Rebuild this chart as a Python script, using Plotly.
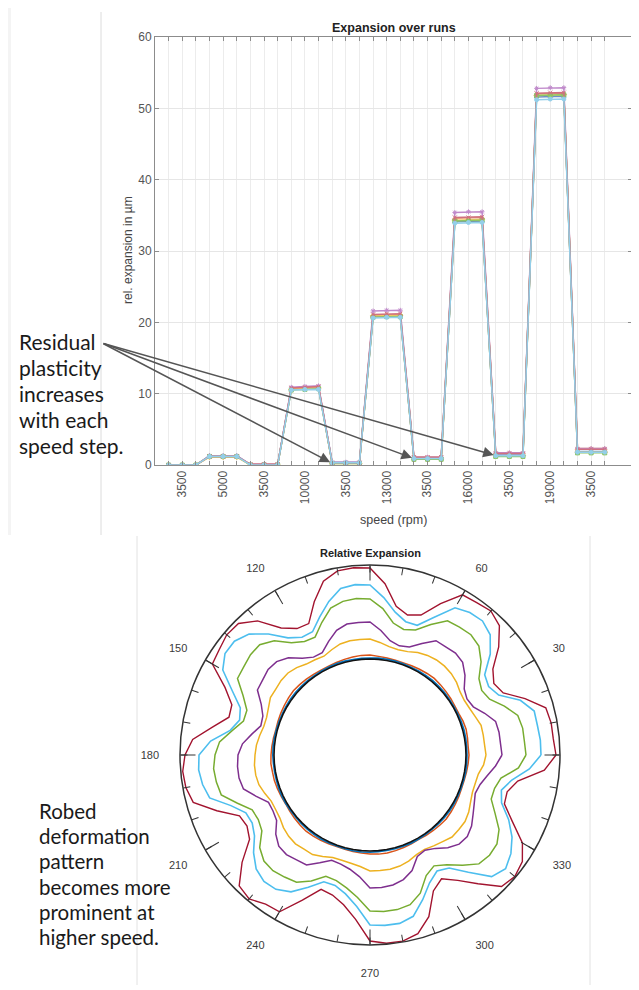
import plotly.graph_objects as go

# page (window) size and the browser's default body offset
PAGE_W, PAGE_H = 639, 990
OFF = 8
W, H = PAGE_W - OFF, PAGE_H - OFF

# ---------------- top chart data ----------------
RUN_POS = list(range(1, 34))
GROUP_CENTERS = [2, 5, 8, 11, 14, 17, 20, 23, 26, 29, 32]
GROUP_LABELS = ['3500', '5000', '3500', '10000', '3500', '13000', '3500', '16000', '3500', '19000', '3500']

exp_blue = [0, 0, 0, 1.3, 1.3, 1.3, 0.05, 0.05, 0.05, 10.6, 10.7, 10.8, 0.4, 0.4, 0.4, 20.8, 20.8, 20.9,
            0.9, 0.9, 0.9, 34.1, 34.2, 34.2, 1.4, 1.4, 1.4, 51.6, 51.7, 51.7, 1.9, 1.9, 1.9]
exp_orange = [0, 0, 0, 1.2, 1.2, 1.2, 0.1, 0.1, 0.1, 10.7, 10.8, 10.9, 0.3, 0.3, 0.3, 21.0, 21.1, 21.1,
              1.1, 1.1, 1.1, 34.6, 34.6, 34.7, 1.7, 1.7, 1.7, 52.0, 52.0, 52.1, 2.3, 2.3, 2.3]
exp_yellow = [0, 0, 0, 1.1, 1.1, 1.1, 0.0, 0.0, 0.0, 10.6, 10.7, 10.8, 0.2, 0.2, 0.2, 20.9, 20.9, 21.0,
              0.8, 0.8, 0.8, 34.3, 34.3, 34.4, 1.3, 1.3, 1.3, 51.8, 51.8, 51.9, 1.8, 1.8, 1.8]
exp_purple = [0, 0, 0, 1.3, 1.3, 1.3, 0.1, 0.1, 0.1, 10.9, 11.0, 11.1, 0.4, 0.4, 0.4, 21.6, 21.7, 21.7,
              1.1, 1.1, 1.1, 35.4, 35.5, 35.5, 1.7, 1.7, 1.7, 52.8, 52.9, 52.9, 2.3, 2.3, 2.3]
exp_green = [0, 0, 0, 1.2, 1.2, 1.2, 0.0, 0.0, 0.0, 10.5, 10.6, 10.7, 0.2, 0.2, 0.2, 20.7, 20.8, 20.8,
             0.8, 0.8, 0.8, 34.2, 34.2, 34.3, 1.2, 1.2, 1.2, 51.8, 51.9, 51.9, 1.7, 1.7, 1.7]
exp_red = [0, 0, 0, 1.2, 1.2, 1.2, 0.1, 0.1, 0.1, 10.8, 10.9, 11.0, 0.3, 0.3, 0.3, 21.1, 21.2, 21.2,
           1.1, 1.1, 1.1, 34.7, 34.7, 34.8, 1.6, 1.6, 1.6, 52.1, 52.2, 52.2, 2.2, 2.2, 2.2]
exp_cyan = [0, 0, 0, 1.2, 1.2, 1.2, 0.0, 0.0, 0.0, 10.5, 10.6, 10.6, 0.3, 0.3, 0.3, 20.6, 20.7, 20.7,
            0.9, 0.9, 0.9, 33.9, 34.0, 34.0, 1.3, 1.3, 1.3, 51.2, 51.3, 51.3, 1.8, 1.8, 1.8]

ARROW_RUNS = [13, 19, 25]

# ---------------- polar chart data (radius, plot units) ----------------
THETA = list(range(0, 360, 5))
r_red = [186, 184, 184, 182, 165, 147, 143, 150, 168, 183,
         188, 186, 185, 167, 149, 145, 151, 172, 187, 188,
         187, 180, 163, 145, 146, 155, 175, 186, 187, 184,
         182, 160, 147, 146, 160, 178, 185, 188, 187, 183,
         163, 144, 142, 147, 167, 185, 188, 182, 181, 160,
         143, 145, 152, 165, 186, 189, 189, 185, 172, 150,
         143, 153, 168, 186, 189, 186, 176, 157, 143, 142,
         150, 175]
r_cyan = [171, 171, 170, 170, 160, 142, 137, 140, 157, 170,
          175, 174, 170, 152, 138, 138, 145, 158, 170, 171,
          169, 159, 147, 136, 136, 143, 158, 171, 177, 177,
          170, 152, 138, 135, 142, 160, 171, 172, 170, 166,
          148, 137, 136, 141, 152, 161, 165, 164, 158, 146,
          135, 135, 141, 152, 170, 171, 171, 167, 154, 141,
          134, 138, 153, 172, 177, 172, 164, 153, 140, 136,
          144, 160]
r_green = [156, 155, 155, 153, 143, 132, 129, 133, 145, 154,
           157, 156, 155, 144, 133, 130, 134, 147, 156, 157,
           156, 152, 141, 130, 131, 137, 149, 156, 156, 154,
           153, 140, 131, 131, 140, 151, 155, 157, 156, 154,
           141, 130, 129, 132, 144, 150, 151, 149, 147, 139,
           129, 130, 135, 143, 156, 157, 157, 155, 147, 133,
           128, 134, 144, 154, 156, 155, 149, 138, 129, 129,
           133, 149]
r_purple = [132, 131, 131, 130, 122, 114, 112, 115, 124, 131,
            133, 132, 132, 123, 115, 113, 116, 125, 133, 133,
            133, 129, 121, 113, 113, 118, 127, 132, 133, 131,
            130, 120, 114, 113, 120, 128, 132, 133, 133, 131,
            121, 112, 112, 114, 123, 129, 130, 128, 127, 119,
            112, 113, 116, 122, 133, 133, 132, 129, 123, 112,
            110, 114, 121, 126, 127, 124, 119, 115, 112, 114,
            119, 126]
r_yellow = [116, 115, 115, 115, 112, 110, 109, 110, 113, 115,
            116, 116, 115, 113, 110, 109, 110, 113, 116, 116,
            116, 115, 112, 109, 110, 111, 114, 116, 116, 115,
            115, 112, 110, 110, 112, 114, 115, 116, 116, 115,
            112, 109, 109, 110, 113, 115, 116, 115, 115, 112,
            109, 109, 110, 112, 116, 116, 116, 115, 113, 110,
            109, 111, 113, 116, 116, 116, 114, 111, 109, 109,
            110, 114]
r_orange = [99, 98.5, 99, 99.5, 99, 98, 98, 98.5, 99, 99.5,
            100, 99.5, 99, 98.5, 98, 98, 98.5, 99, 100, 100,
            99.5, 99, 98.5, 98, 98, 98.5, 99, 99.5, 100, 99.5,
            99, 98.5, 98, 97.5, 98, 98.5, 99, 99.5, 99, 99,
            98.5, 98, 97.5, 98, 98.5, 99, 99.5, 99, 98.5, 98,
            97.5, 97.5, 98, 98.5, 99, 99.5, 99.5, 99, 98.5, 98,
            97.5, 98, 98.5, 99, 99.5, 99, 98.5, 98, 97.5, 97.5,
            98, 98.5]
r_blue = [97, 97, 97.2, 97.3, 97.2, 97, 96.9, 97, 97.2, 97.3,
          97.3, 97.2, 97, 96.9, 97, 97.2, 97.3, 97.2, 97, 97,
          97, 97.2, 97.3, 97.2, 97, 96.9, 97, 97.2, 97.3, 97.2,
          97, 96.9, 96.9, 97, 97.2, 97.3, 97.2, 97, 96.9, 97,
          97.2, 97.3, 97.2, 97, 96.9, 97, 97.2, 97.3, 97.2, 97,
          96.9, 97, 97.2, 97.3, 97.2, 97, 96.9, 97, 97.2, 97.3,
          97.2, 97, 96.9, 97, 97.2, 97.3, 97.2, 97, 96.9, 97,
          97.2, 97.1]
r_black = [96, 96, 96, 96, 96, 96, 96, 96, 96, 96,
           96, 96, 96, 96, 96, 96, 96, 96, 96, 96,
           96, 96, 96, 96, 96, 96, 96, 96, 96, 96,
           96, 96, 96, 96, 96, 96, 96, 96, 96, 96,
           96, 96, 96, 96, 96, 96, 96, 96, 96, 96,
           96, 96, 96, 96, 96, 96, 96, 96, 96, 96,
           96, 96, 96, 96, 96, 96, 96, 96, 96, 96,
           96, 96]

ANG_LABELS = [30, 60, 120, 150, 180, 210, 240, 270, 300, 330]

NOTE_TOP = ['Residual', 'plasticity', 'increases', 'with each', 'speed step.']
NOTE_BOTTOM = ['Robed', 'deformation', 'pattern', 'becomes more', 'prominent at', 'higher speed.']

# ---------------- colours ----------------
C_BLUE = '#0072BD'
C_ORANGE = '#D95319'
C_YELLOW = '#EDB120'
C_PURPLE = '#7E2F8E'
C_GREEN = '#77AC30'
C_CYAN = '#4DBEEE'
C_RED = '#A2142F'

# washed-out versions used in the (photographed) top chart
T_BLUE = '#6f8fc8'
T_ORANGE = '#e89a70'
T_YELLOW = '#efc860'
T_PURPLE = '#c08acb'
T_GREEN = '#8cc466'
T_CYAN = '#93cfea'
T_RED = '#d0707f'

FONT = 'Liberation Sans, Arial, sans-serif'
NOTE_FONT = 'Lato, Open Sans, sans-serif'

fig = go.Figure()

# ---- top chart traces ----
top_series = [
    (exp_blue, T_BLUE, 'triangle-up'),
    (exp_orange, T_ORANGE, 'triangle-up'),
    (exp_yellow, T_YELLOW, 'diamond'),
    (exp_purple, T_PURPLE, 'asterisk-open'),
    (exp_green, T_GREEN, 'square'),
    (exp_red, T_RED, 'x-thin-open'),
    (exp_cyan, T_CYAN, 'circle'),
]
for vals, col, sym in top_series:
    fig.add_trace(go.Scatter(
        x=RUN_POS, y=vals, mode='lines+markers',
        line=dict(color=col, width=1.5),
        marker=dict(symbol=sym, size=4, color=col, line=dict(color=col, width=1)),
        showlegend=False, hoverinfo='skip', xaxis='x', yaxis='y'))

# ---- polar traces ----
def closed(v):
    return list(v) + [v[0]]

TH = closed(THETA)
polar_series = [
    (r_orange, C_ORANGE, 1.5, 'polar'),
    (r_yellow, C_YELLOW, 1.5, 'polar'),
    (r_purple, C_PURPLE, 1.5, 'polar'),
    (r_green, C_GREEN, 1.5, 'polar'),
    (r_cyan, C_CYAN, 1.6, 'polar'),
    (r_red, C_RED, 1.4, 'polar'),
    (r_blue, C_BLUE, 1.6, 'polar2'),
    (r_black, '#111111', 1.6, 'polar3'),
]
for rv, col, lw, sp in polar_series:
    fig.add_trace(go.Scatterpolar(
        r=closed(rv), theta=TH, mode='lines', line=dict(color=col, width=lw),
        subplot=sp, showlegend=False, hoverinfo='skip'))

# ---- layout geometry (page pixel coordinates) ----
AX_L, AX_R, AX_T, AX_B = 155, 632, 37, 465
PC_X, PC_Y, PC_R = 370, 755, 190


def px_x(p):
    return (p - OFF) / W


def px_y(p):
    return (H - (p - OFF)) / H


x_dom = [px_x(AX_L), px_x(AX_R)]
y_dom = [px_y(AX_B), px_y(AX_T)]
p_xdom = [px_x(PC_X - PC_R), px_x(PC_X + PC_R)]
p_ydom = [px_y(PC_Y + PC_R), px_y(PC_Y - PC_R)]

ticktext = [''] * len(RUN_POS)
for c, lab in zip(GROUP_CENTERS, GROUP_LABELS):
    ticktext[RUN_POS.index(c)] = lab

axis_col = '#8c8c8c'
radial_off = dict(range=[0, 190], visible=False, showgrid=False, showline=False,
                  showticklabels=False, ticks='')

fig.update_layout(
    template='none',
    width=W, height=H, margin=dict(l=0, r=0, t=0, b=0),
    paper_bgcolor='white', plot_bgcolor='white', showlegend=False,
    font=dict(family=FONT, size=12, color='#333333'),
    xaxis=dict(domain=x_dom, range=[0, 35], tickmode='array', tickvals=RUN_POS, ticktext=ticktext,
               tickangle=-90, ticks='inside', ticklen=4, tickcolor=axis_col, showline=True,
               linecolor=axis_col, linewidth=1, mirror='ticks', showgrid=True, gridcolor='#ececec',
               gridwidth=1, zeroline=False, tickfont=dict(size=12, color='#555555')),
    yaxis=dict(domain=y_dom, range=[0, 60], tickvals=[0, 10, 20, 30, 40, 50, 60],
               ticks='inside', ticklen=4, tickcolor=axis_col, showline=True, linecolor=axis_col,
               linewidth=1, mirror='ticks', showgrid=True, gridcolor='#e6e6e6', zeroline=False,
               tickfont=dict(size=12, color='#555555')),
    polar=dict(domain=dict(x=p_xdom, y=p_ydom), bgcolor='white', radialaxis=radial_off,
               angularaxis=dict(rotation=0, direction='counterclockwise', tickmode='array',
                                tickvals=ANG_LABELS, ticktext=[str(a) for a in ANG_LABELS],
                                ticks='outside', ticklen=18, tickcolor='rgba(0,0,0,0)',
                                showline=True, linecolor='#333333', linewidth=1.5, showgrid=False,
                                tickfont=dict(family=FONT, size=11, color='#3a3a3a'))),
    polar2=dict(domain=dict(x=p_xdom, y=p_ydom), bgcolor='rgba(0,0,0,0)', radialaxis=radial_off,
                angularaxis=dict(rotation=0, direction='counterclockwise', tickmode='array',
                                 tickvals=list(range(0, 360, 10)), ticks='inside', ticklen=7,
                                 tickcolor='#333333', tickwidth=1.2, showticklabels=False,
                                 showline=False, showgrid=False)),
    polar3=dict(domain=dict(x=p_xdom, y=p_ydom), bgcolor='rgba(0,0,0,0)', radialaxis=radial_off,
                angularaxis=dict(rotation=0, direction='counterclockwise', tickmode='array',
                                 tickvals=list(range(0, 360, 30)), ticks='inside', ticklen=15,
                                 tickcolor='#333333', tickwidth=1.4, showticklabels=False,
                                 showline=False, showgrid=False)),
)

ann = []
ann.append(dict(text='<b>Expansion over runs</b>', x=px_x((AX_L + AX_R) / 2), y=px_y(28),
                xref='paper', yref='paper', showarrow=False, xanchor='center', yanchor='middle',
                font=dict(family=FONT, size=12.5, color='#222222')))
ann.append(dict(text='speed (rpm)', x=px_x((AX_L + AX_R) / 2), y=px_y(520),
                xref='paper', yref='paper', showarrow=False, xanchor='center', yanchor='middle',
                font=dict(family=FONT, size=12.5, color='#444444')))
ann.append(dict(text='rel. expansion in µm', x=px_x(128), y=px_y(250), textangle=-90,
                xref='paper', yref='paper', showarrow=False, xanchor='center', yanchor='middle',
                font=dict(family=FONT, size=12, color='#444444')))
ann.append(dict(text='<b>Relative Expansion</b>', x=px_x(PC_X), y=px_y(553),
                xref='paper', yref='paper', showarrow=False, xanchor='center', yanchor='middle',
                font=dict(family=FONT, size=11, color='#222222')))

# side notes, one annotation per line
for i, line in enumerate(NOTE_TOP):
    ann.append(dict(text=line, x=px_x(17), y=px_y(342 + 25.8 * i), xref='paper', yref='paper',
                    showarrow=False, xanchor='left', yanchor='middle', align='left',
                    font=dict(family=NOTE_FONT, size=21, color='#1a1a1a')))
for i, line in enumerate(NOTE_BOTTOM):
    ann.append(dict(text=line, x=px_x(37), y=px_y(811 + 25.2 * i), xref='paper', yref='paper',
                    showarrow=False, xanchor='left', yanchor='middle', align='left',
                    font=dict(family=NOTE_FONT, size=20.5, color='#1a1a1a')))

# arrows: from the end of "Residual" to the residual points
tail_x = (102 - AX_L) / (AX_R - AX_L) * 35
tail_y = (AX_B - 343) / (AX_B - AX_T) * 60
for k in ARROW_RUNS:
    yv = exp_cyan[RUN_POS.index(k)]
    ann.append(dict(x=k - 0.15, y=yv + 0.1, xref='x', yref='y', ax=tail_x, ay=tail_y,
                    axref='x', ayref='y', showarrow=True, arrowhead=2, arrowsize=1.4,
                    arrowwidth=1.5, arrowcolor='#555555', text=''))
fig.update_layout(annotations=ann)

# page decoration (panel borders)
shapes = [
    dict(type='rect', xref='paper', yref='paper', x0=0, x1=px_x(11), y0=px_y(535), y1=1,
         fillcolor='#f4f4f4', line=dict(width=0), layer='below'),
    dict(type='line', xref='paper', yref='paper', x0=px_x(101), x1=px_x(101), y0=px_y(535), y1=px_y(12),
         line=dict(color='#dcdcdc', width=1), layer='below'),
    dict(type='line', xref='paper', yref='paper', x0=px_x(137), x1=px_x(137), y0=px_y(985), y1=px_y(536),
         line=dict(color='#e2e2e2', width=1), layer='below'),
    dict(type='line', xref='paper', yref='paper', x0=px_x(590), x1=px_x(590), y0=px_y(985), y1=px_y(536),
         line=dict(color='#e2e2e2', width=1), layer='below'),
]
fig.update_layout(shapes=shapes)

fig.write_html('out.html')
